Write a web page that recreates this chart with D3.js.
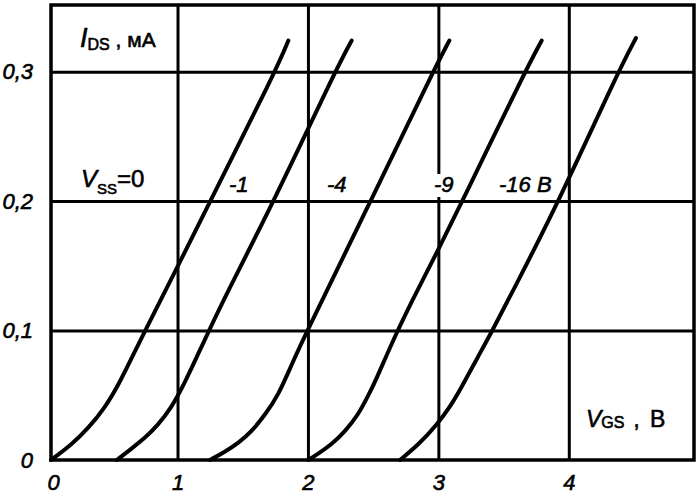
<!DOCTYPE html>
<html><head><meta charset="utf-8">
<script src="https://cdn.jsdelivr.net/npm/d3@7"></script>
<style>
body{margin:0;background:#fff}
svg{display:block;background:#fff}
text{font-family:"Liberation Sans",Arial,sans-serif;fill:#000;stroke:#000;stroke-width:0.6px}
</style>
</head><body><svg id="c" width="697" height="500"></svg>
<script>
// ---- data ----
const xTicks = [0, 1, 2, 3, 4];
const xTickLabels = ["0", "1", "2", "3", "4"];
const yTicks = [0, 0.1, 0.2, 0.3];
const yTickLabels = ["0", "0,1", "0,2", "0,3"];
const vssLabels = ["0", "-1", "-4", "-9", "-16 B"];

const vgsVss0  = [0.03, 0.19, 0.32, 0.44, 0.55, 0.75, 1.0, 1.25, 1.75, 1.85];
const idsVss0  = [0, 0.012, 0.025, 0.040, 0.058, 0.100, 0.149, 0.200, 0.300, 0.324];
const vgsVss1  = [0.534, 0.65, 0.75, 0.85, 0.95, 1.05, 1.236, 1.389, 1.734, 2.207, 2.335];
const idsVss1  = [0, 0.009, 0.017, 0.027, 0.040, 0.058, 0.099, 0.131, 0.199, 0.300, 0.324];
const vgsVss4  = [1.249, 1.364, 1.466, 1.569, 1.671, 1.773, 1.876, 1.99, 2.476, 2.959, 3.084];
const idsVss4  = [0, 0.0064, 0.013, 0.022, 0.035, 0.050, 0.074, 0.099, 0.199, 0.300, 0.324];
const vgsVss9  = [2.003, 2.08, 2.182, 2.284, 2.386, 2.463, 2.514, 2.68, 2.859, 2.987, 3.179, 3.664, 3.792];
const idsVss9  = [0, 0.005, 0.012, 0.022, 0.035, 0.050, 0.060, 0.099, 0.135, 0.160, 0.199, 0.300, 0.324];
const vgsVss16 = [2.706, 2.859, 2.987, 3.089, 3.166, 3.294, 3.409, 3.574, 3.919, 4.379, 4.515];
const idsVss16 = [0, 0.013, 0.027, 0.041, 0.054, 0.078, 0.099, 0.131, 0.199, 0.300, 0.326];

const xDomain = [0.03, 4.96];
const yDomain = [0, 0.3515];

// ---- chart ----
const svg = d3.select("#c");
const L = 51, R = 694, T = 5, B = 460;
const x = d3.scaleLinear().domain(xDomain).range([L, R]);
const y = d3.scaleLinear().domain(yDomain).range([B, T]);

const series = [
  {vgs: vgsVss0, ids: idsVss0},
  {vgs: vgsVss1, ids: idsVss1},
  {vgs: vgsVss4, ids: idsVss4},
  {vgs: vgsVss9, ids: idsVss9},
  {vgs: vgsVss16, ids: idsVss16}
];

// grid via axes
const gx = svg.append("g").attr("transform", `translate(0,${B})`)
  .call(d3.axisBottom(x).tickValues(xTicks)
    .tickFormat((d, i) => xTickLabels[i])
    .tickSizeInner(-(B - T)).tickSizeOuter(0).tickPadding(14));
gx.select(".domain").remove();
gx.selectAll(".tick line").attr("stroke", "#000").attr("stroke-width", 3)
  .filter(d => d === 0).remove();
gx.selectAll(".tick text").attr("font-size", 22).attr("font-style", "italic")
  .attr("fill", "#000").attr("font-family", null)
  .filter(d => d === 0).attr("text-anchor", "start");

const gy = svg.append("g").attr("transform", `translate(${L},0)`)
  .call(d3.axisLeft(y).tickValues(yTicks)
    .tickFormat((d, i) => yTickLabels[i])
    .tickSizeInner(-(R - L)).tickSizeOuter(0).tickPadding(18));
gy.select(".domain").remove();
gy.selectAll(".tick line").attr("stroke", "#000").attr("stroke-width", 3)
  .filter(d => d === 0).remove();
gy.selectAll(".tick text").attr("font-size", 22).attr("font-style", "italic")
  .attr("fill", "#000").attr("font-family", null);

// frame
svg.append("rect").attr("x", L).attr("y", T).attr("width", R - L).attr("height", B - T)
  .attr("fill", "none").attr("stroke", "#000").attr("stroke-width", 3.5);

// curves
const line = d3.line().x(d => x(d[0])).y(d => y(d[1])).curve(d3.curveBasis);
svg.append("g").selectAll("path").data(series).join("path")
  .attr("d", s => line(s.vgs.map((v, i) => [v, s.ids[i]])))
  .attr("fill", "none").attr("stroke", "#000").attr("stroke-width", 4)
  .attr("stroke-linecap", "round").attr("stroke-linejoin", "round");

// axis titles
const t1 = svg.append("text").attr("x", 80).attr("y", 47).attr("font-size", 21);
t1.append("tspan").attr("font-style", "italic").attr("font-size", 27).text("I");
t1.append("tspan").attr("font-size", 16).attr("dy", 3).text("DS");
t1.append("tspan").attr("dy", -3).text(" , мА");

const t2 = svg.append("text").attr("x", 586).attr("y", 427).attr("font-size", 22);
t2.append("tspan").attr("font-style", "italic").attr("font-size", 23).text("V");
t2.append("tspan").attr("font-size", 16).attr("dy", 1).text("GS");
t2.append("tspan").attr("dy", -1).attr("dx", 3).text(" ,");
t2.append("tspan").attr("dx", 4).attr("font-size", 23).text(" B");

// Vss labels
const t3 = svg.append("text").attr("x", 81).attr("y", 187).attr("font-size", 24);
t3.append("tspan").attr("font-style", "italic").text("V");
t3.append("tspan").attr("font-size", 15).attr("dy", 7).text("SS");
t3.append("tspan").attr("dy", -7).text("=" + vssLabels[0]);

const lblPos = [null, [229, 192], [327, 192], [434, 192], [499, 192]];
const lg = svg.append("g");
vssLabels.forEach((l, i) => {
  if (i === 0) return;
  const t = lg.append("text").attr("x", lblPos[i][0]).attr("y", lblPos[i][1])
    .attr("font-size", 22).attr("font-style", "italic").text(l);
  const bb = t.node().getBBox();
  lg.insert("rect", "text").attr("x", bb.x - 1).attr("y", bb.y + 2)
    .attr("width", bb.width + 2).attr("height", bb.height - 2).attr("fill", "#fff");
});
</script>
</body></html>
